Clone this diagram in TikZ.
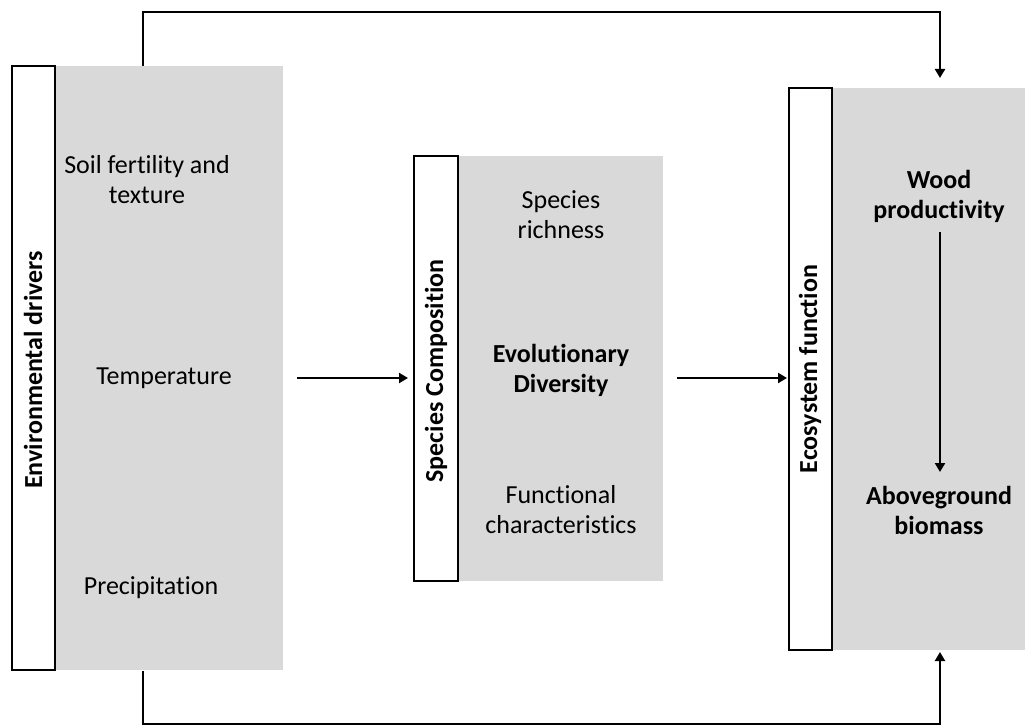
\documentclass[tikz,border=0pt]{standalone}
\usepackage{fontspec}
\setmainfont{Carlito}[Ligatures=NoCommon]
\usetikzlibrary{arrows.meta}
\definecolor{boxgrey}{HTML}{D9D9D9}
\begin{document}
\begin{tikzpicture}[x=1pt,y=-1pt,
  greybox/.style={fill=boxgrey, draw=none, inner sep=0pt, outer sep=0pt, anchor=north west},
  barbox/.style={draw=black, line width=1.7pt, fill=white, inner sep=0pt, outer sep=0pt, anchor=north west},
  lbl/.style={font=\fontsize{26}{30}\selectfont, align=center, inner sep=0pt},
  blbl/.style={lbl, font=\fontsize{26}{30}\selectfont\bfseries},
  vlbl/.style={font=\fontsize{26}{30}\selectfont\bfseries, rotate=90, inner sep=0pt},
  conn/.style={line width=2.5pt, -{Triangle[length=9pt,width=10pt]}}]
\useasboundingbox (0,0) rectangle (1025,725);

% left group
\node[greybox, minimum width=228pt, minimum height=604pt] (g1) at (55,66) {};
\node[barbox, minimum width=43pt, minimum height=604pt] (b1) at (12,66) {};
\node[vlbl] (v1) at (33,370) {Environmental drivers};
\node[lbl] (soil) at (147,180) {Soil fertility and\\texture};
\node[lbl] (temp) at (164,378) {Temperature};
\node[lbl] (prec) at (151,588) {Precipitation};

% middle group
\node[greybox, minimum width=205pt, minimum height=425pt] (g2) at (458,156) {};
\node[barbox, minimum width=44pt, minimum height=425pt] (b2) at (414,156) {};
\node[vlbl] (v2) at (436,371) {Species Composition};
\node[lbl] (rich) at (561,215) {Species\\richness};
\node[blbl] (evol) at (561,370) {Evolutionary\\Diversity};
\node[lbl] (func) at (561,510) {Functional\\characteristics};

% right group
\node[greybox, minimum width=193pt, minimum height=562pt] (g3) at (832,88) {};
\node[barbox, minimum width=43pt, minimum height=562pt] (b3) at (789,88) {};
\node[vlbl] (v3) at (810,369) {Ecosystem function};
\node[blbl] (wood) at (939,196) {Wood\\productivity};
\node[blbl] (agb) at (939,510) {Aboveground\\biomass};

% connector coordinates
\coordinate (aL) at (143,66);
\coordinate (topY) at (500,12);
\coordinate (aR) at (940,78);
\coordinate (bL) at (143,671);
\coordinate (botY) at (500,724);
\coordinate (bR) at (940,652);
\coordinate (h1s) at (297,378);
\coordinate (h1e) at (408,378);
\coordinate (h2s) at (677,378);
\coordinate (h2e) at (787,378);
\coordinate (ws) at (940,232);
\coordinate (we) at (940,472);

\draw[conn] (aL) |- (topY) -| (aR);
\draw[conn] (bL) |- (botY) -| (bR);
\draw[conn] (h1s) -- (h1e);
\draw[conn] (h2s) -- (h2e);
\draw[conn] (ws) -- (we);
\end{tikzpicture}
\end{document}
